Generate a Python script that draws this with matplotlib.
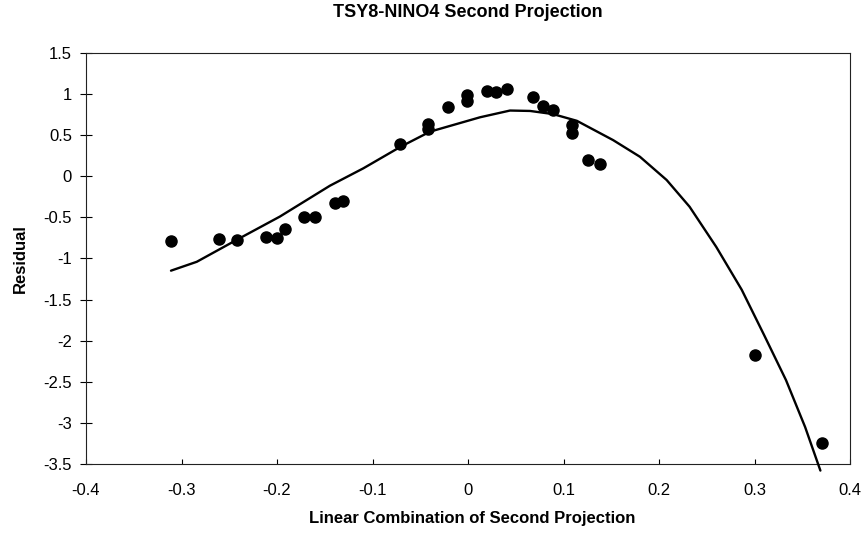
import matplotlib
matplotlib.use("Agg")
import matplotlib.pyplot as plt

obs_x = [-0.311, -0.261, -0.242, -0.211, -0.200, -0.192, -0.172, -0.160, -0.139, -0.131,
         -0.071, -0.042, -0.042, -0.021, -0.001, -0.001, 0.020, 0.029, 0.041, 0.068,
         0.079, 0.089, 0.109, 0.109, 0.126, 0.138, 0.300, 0.371]
obs_y = [-0.79, -0.76, -0.77, -0.74, -0.75, -0.64, -0.49, -0.50, -0.33, -0.30,
         0.39, 0.64, 0.58, 0.84, 0.99, 0.92, 1.04, 1.02, 1.06, 0.96,
         0.85, 0.81, 0.62, 0.53, 0.20, 0.15, -2.17, -3.24]

# fitted curve
fit_x = [-0.311, -0.284, -0.2425, -0.197, -0.1445, -0.1096, -0.0705, -0.0398, 0.0126, 0.044,
         0.065, 0.089, 0.114, 0.152, 0.180, 0.208, 0.232, 0.260, 0.2866, 0.31,
         0.333, 0.353, 0.369]
fit_y = [-1.148, -1.04, -0.775, -0.49, -0.114, 0.097, 0.36, 0.543, 0.718, 0.80,
         0.795, 0.757, 0.675, 0.44, 0.238, -0.045, -0.37, -0.86, -1.38, -1.93,
         -2.48, -3.05, -3.58]

x_ticks = [-0.4, -0.3, -0.2, -0.1, 0, 0.1, 0.2, 0.3, 0.4]
y_ticks = [1.5, 1, 0.5, 0, -0.5, -1, -1.5, -2, -2.5, -3, -3.5]

plt.rcParams['font.family'] = ['Liberation Sans', 'DejaVu Sans']

W, H = 866, 533
fig = plt.figure(figsize=(W / 100, H / 100), dpi=100)
ax = fig.add_axes([86 / W, 1 - 464 / H, (850 - 86) / W, (464 - 53) / H])

ax.plot(fit_x, fit_y, color='black', linewidth=1.7, clip_on=False, zorder=3,
        solid_joinstyle='round', solid_capstyle='round')
ax.plot(obs_x, obs_y, 'o', color='black', markersize=8, linestyle='none', zorder=4)

ax.set_xlim(-0.4, 0.4)
ax.set_ylim(-3.5, 1.5)
ax.set_xticks(x_ticks)
ax.set_xticklabels([f"{v:g}" for v in x_ticks])
ax.set_yticks(y_ticks)
ax.set_yticklabels([f"{v:g}" for v in y_ticks])

ax.tick_params(axis='x', direction='in', length=3.5, width=0.8, labelsize=12, pad=14)
ax.tick_params(axis='y', direction='inout', length=8, width=0.8, labelsize=12, pad=6)
for s in ax.spines.values():
    s.set_linewidth(0.8)
    s.set_color('#222222')

# title and axis titles placed like the original chart
fig.text(468 / W, 1 - 16.7 / H, "TSY8-NINO4 Second Projection", fontsize=13,
         fontweight='bold', ha='center', va='baseline')
fig.text(472 / W, 1 - 523 / H, "Linear Combination of Second Projection", fontsize=12,
         fontweight='bold', ha='center', va='baseline')
fig.text(20 / W, 1 - 259 / H, "Residual", fontsize=12, fontweight='bold',
         rotation=90, ha='center', va='center')

fig.savefig("out.png", dpi=100)
